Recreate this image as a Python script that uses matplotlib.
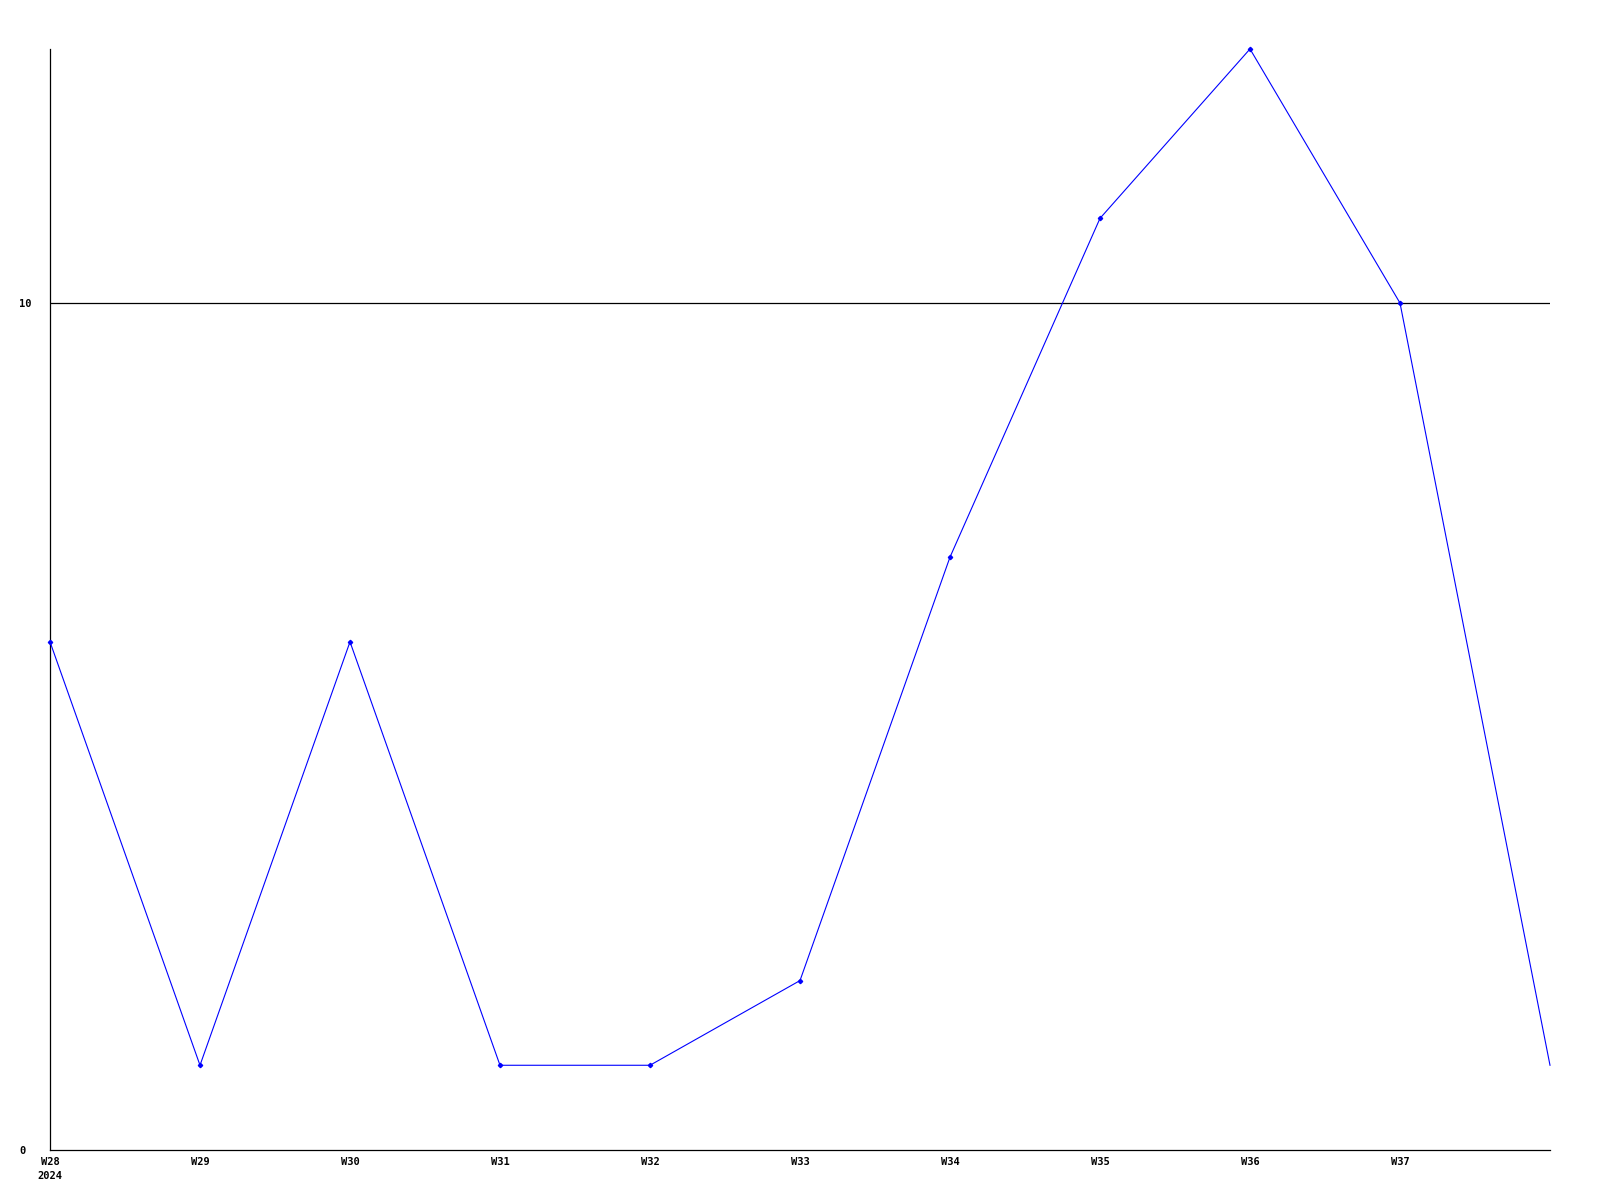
import matplotlib
matplotlib.use("Agg")
import matplotlib.pyplot as plt

weeks = ["W28\n2024", "W29", "W30", "W31", "W32", "W33", "W34", "W35", "W36", "W37"]
values = [6, 1, 6, 1, 1, 2, 7, 11, 13, 10, 1]
yticks = [0, 10]

fig = plt.figure(figsize=(16, 12), dpi=100)
ax = fig.add_axes([0.03125, 0.0417, 0.9375, 0.9175])

x = list(range(len(values)))
ax.plot(x, values, color="#0000ff", lw=0.8, marker="D", ms=2.2, clip_on=False, zorder=3,
        markevery=list(range(len(values) - 1)))

ax.set_xlim(0, len(values) - 1)
ax.set_ylim(0, 13)
ax.axhline(10, color="black", lw=0.9, zorder=2)

ax.set_xticks(range(len(weeks)))
ax.set_xticklabels(weeks, fontfamily="DejaVu Sans Mono", fontweight="bold", fontsize=7.5,
                   va="top", linespacing=1.5)
ax.set_yticks(yticks)
ax.set_yticklabels([str(v) for v in yticks], fontfamily="DejaVu Sans Mono",
                   fontweight="bold", fontsize=7.5, ha="left")
ax.tick_params(axis="y", length=0, pad=22)
ax.tick_params(axis="x", length=0, pad=5)

for s in ["top", "right"]:
    ax.spines[s].set_visible(False)
for s in ["left", "bottom"]:
    ax.spines[s].set_linewidth(0.9)

fig.savefig("out.png", dpi=100)
